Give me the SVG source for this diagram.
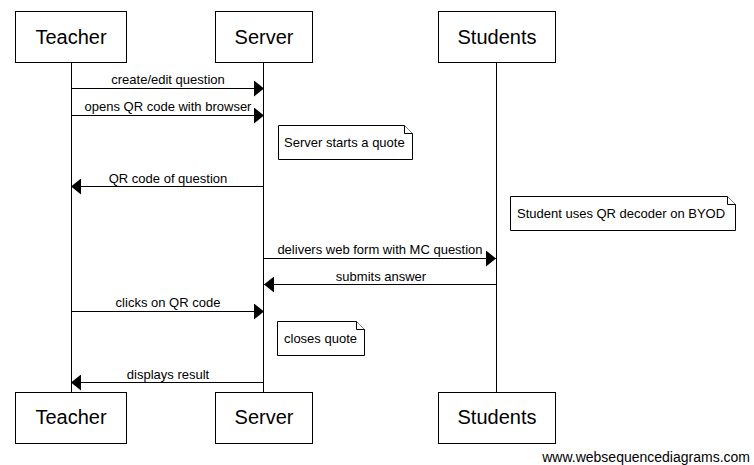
<svg xmlns="http://www.w3.org/2000/svg" width="754" height="465" viewBox="0 0 754 465">
<defs>
<style>
.box{fill:#fff;stroke:#000;stroke-width:1}
.pt{font-family:"Liberation Sans",Arial,sans-serif;font-size:20px;fill:#000;text-anchor:middle}
.ml{font-family:"Liberation Sans",Arial,sans-serif;font-size:13px;fill:#000;text-anchor:middle}
.nt{font-family:"Liberation Sans",Arial,sans-serif;font-size:13px;fill:#000}
.life{stroke:#000;stroke-width:1;fill:none}
.msg{stroke:#000;stroke-width:1;fill:none}
.note{fill:#fff;stroke:#000;stroke-width:1}
</style>
<marker id="ah" viewBox="0 0 10 16" refX="10" refY="8" markerWidth="10" markerHeight="16" markerUnits="userSpaceOnUse" orient="auto">
<path d="M0,0 L10,8 L0,16 Z" fill="#000"/>
</marker>
</defs>
<rect width="754" height="465" fill="#fff"/>
<g id="lifelines">
<line class="life" x1="71.5" y1="62" x2="71.5" y2="392"/>
<line class="life" x1="263.5" y1="62" x2="263.5" y2="392"/>
<line class="life" x1="496.5" y1="62" x2="496.5" y2="392"/>
</g>
<g id="teacher-top"><rect class="box" x="15.5" y="11.5" width="111" height="51"/><text class="pt" x="71" y="44">Teacher</text></g>
<g id="server-top"><rect class="box" x="215.5" y="11.5" width="97" height="51"/><text class="pt" x="264" y="44">Server</text></g>
<g id="students-top"><rect class="box" x="438.5" y="11.5" width="117" height="51"/><text class="pt" x="497" y="44">Students</text></g>
<g id="teacher-bottom"><rect class="box" x="15.5" y="392.5" width="111" height="51"/><text class="pt" x="71" y="424">Teacher</text></g>
<g id="server-bottom"><rect class="box" x="215.5" y="392.5" width="97" height="51"/><text class="pt" x="264" y="424">Server</text></g>
<g id="students-bottom"><rect class="box" x="438.5" y="392.5" width="117" height="51"/><text class="pt" x="497" y="424">Students</text></g>
<g id="connectors">
<line class="msg" x1="71" y1="88.5" x2="264" y2="88.5" marker-end="url(#ah)"/>
<text class="ml" x="168" y="84">create/edit question</text>
<line class="msg" x1="71" y1="115.5" x2="264" y2="115.5" marker-end="url(#ah)"/>
<text class="ml" x="168" y="111">opens QR code with browser</text>
<line class="msg" x1="264" y1="186.5" x2="71" y2="186.5" marker-end="url(#ah)"/>
<text class="ml" x="168" y="183">QR code of question</text>
<line class="msg" x1="264" y1="258.5" x2="496" y2="258.5" marker-end="url(#ah)"/>
<text class="ml" x="380" y="254">delivers web form with MC question</text>
<line class="msg" x1="496" y1="284.5" x2="264" y2="284.5" marker-end="url(#ah)"/>
<text class="ml" x="381" y="281">submits answer</text>
<line class="msg" x1="71" y1="311.5" x2="264" y2="311.5" marker-end="url(#ah)"/>
<text class="ml" x="168" y="307">clicks on QR code</text>
<line class="msg" x1="264" y1="382.5" x2="71" y2="382.5" marker-end="url(#ah)"/>
<text class="ml" x="168" y="379">displays result</text>
</g>
<g id="note-server-starts">
<path class="note" d="M278.5,125.5 H404.5 L412.5,133.5 V159.5 H278.5 Z"/>
<path class="note" d="M404.5,125.5 V133.5 H412.5" fill="none"/>
<text class="nt" x="284" y="147">Server starts a quote</text>
</g>
<g id="note-student">
<path class="note" d="M510.5,196.5 H727.5 L735.5,204.5 V230.5 H510.5 Z"/>
<path class="note" d="M727.5,196.5 V204.5 H735.5" fill="none"/>
<text class="nt" x="517" y="218">Student uses QR decoder on BYOD</text>
</g>
<g id="note-closes">
<path class="note" d="M277.5,321.5 H356.5 L364.5,329.5 V355.5 H277.5 Z"/>
<path class="note" d="M356.5,321.5 V329.5 H364.5" fill="none"/>
<text class="nt" x="284" y="343">closes quote</text>
</g>
<text x="750" y="462" font-family="Liberation Sans, Arial, sans-serif" font-size="14" text-anchor="end" fill="#000">www.websequencediagrams.com</text>
</svg>
